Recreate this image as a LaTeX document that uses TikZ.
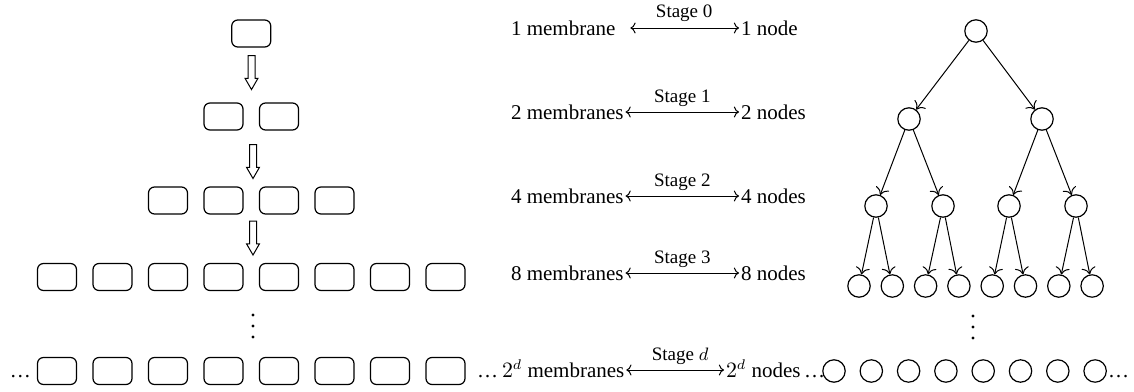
\documentclass[tikz,border=0pt]{standalone}
\usepackage{fontspec}
\setmainfont{Liberation Serif}
\usetikzlibrary{positioning, arrows.meta, shapes.arrows}

\begin{document}
\begin{tikzpicture}[x=0.5pt, y=-0.5pt,
    mem/.style={draw, rounded corners=3pt, minimum width=19.5pt, minimum height=13.5pt,
      inner sep=0pt, line width=0.6pt},
    cell/.style={draw, circle, minimum size=11.2pt, inner sep=0pt, line width=0.6pt},
    down/.style={draw, single arrow, shape border rotate=270, minimum height=17pt,
      inner sep=1.5pt, single arrow head extend=1.5pt, single arrow tip angle=60, line width=0.5pt},
    txt/.style={inner sep=0pt, outer sep=1pt, anchor=base west, text height=7pt, text depth=0pt,
      font=\fontsize{10.5}{12}\selectfont},
    stage/.style={font=\fontsize{9.5}{11}\selectfont, anchor=base, inner sep=0pt, yshift=5pt},
    sarr/.style={{To[length=2.6pt,width=5.5pt]}-{To[length=2.6pt,width=5.5pt]}, line width=0.5pt},
    tarr/.style={-{To[length=3.5pt,width=7pt]}, line width=0.5pt},
    dot/.style={fill, circle, inner sep=0pt, minimum size=1.6pt}]
    \useasboundingbox (0,0) rectangle (1134,391);

    % membranes, one row per stage
    \node[mem] (m0) at (251.25,33.5) {};
    \foreach \i in {4,5} \node[mem] (m1-\i) at (1.5+55.5*\i,116.5) {};
    \foreach \i in {3,...,6} \node[mem] (m2-\i) at (1.5+55.5*\i,200.5) {};
    \foreach \i in {1,...,8} \node[mem] (m3-\i) at (1.5+55.5*\i,277) {};
    \foreach \i in {1,...,8} \node[mem] (md-\i) at (1.5+55.5*\i,371) {};
    \node[txt] (ldots) at (8,377) {\dots};
    \node[txt] (rdots) at (475,377) {\dots};
    \node[down] (h0) at (251.5,69.5) {};
    \node[down] (h1) at (253,158.5) {};
    \node[down] (h2) at (253,235) {};
    \foreach \k in {0,1,2} \node[dot] (lv\k) at (253,315+11*\k) {};

    % stages
    \node[txt] (l0) at (509,35) {1 membrane};
    \node[txt] (r0) at (739,35) {1 node};
    \draw[sarr, shorten <=6.5pt] (l0) -- node[stage, xshift=3pt] {Stage 0} (r0);
    \foreach \s/\n/\y in {1/2/119, 2/4/203, 3/8/280} {
      \node[txt] (l\s) at (509,\y) {\n\ membranes};
      \node[txt] (r\s) at (739,\y) {\n\ nodes};
      \draw[sarr] (l\s) -- node[stage] {Stage \s} (r\s);
    }
    \node[txt] (l4) at (500,377) {$2^d$ membranes};
    \node[txt] (r4) at (724,377) {$2^d$ nodes\,\dots};
    \draw[sarr] (l4) -- node[stage, xshift=2.5pt] {Stage $d$} (r4);

    % binary tree
    \node[cell] (t0) at (976,31) {};
    \node[cell] (t1-1) at (909,119) {};
    \node[cell] (t1-2) at (1042,119) {};
    \foreach \x [count=\i] in {876,943,1009,1076} \node[cell] (t2-\i) at (\x,206) {};
    \foreach \i in {1,...,8} \node[cell] (t3-\i) at (825.7+33.3*\i,286) {};
    \foreach \i in {1,...,8} \node[cell] (td-\i) at (796.7+37.3*\i,371) {};
    \node[txt] (tdots) at (1106,377) {\dots};
    \foreach \k in {0,1,2} \node[dot] (rv\k) at (973,316+11*\k) {};
    \foreach \p/\c in {t0/t1-1, t0/t1-2, t1-1/t2-1, t1-1/t2-2, t1-2/t2-3, t1-2/t2-4}
      \draw[tarr] (\p) -- (\c);
    \foreach \j in {1,...,4} {
      \pgfmathtruncatemacro\a{2*\j-1}
      \pgfmathtruncatemacro\b{2*\j}
      \draw[tarr] (t2-\j) -- (t3-\a);
      \draw[tarr] (t2-\j) -- (t3-\b);
    }
\end{tikzpicture}
\end{document}
